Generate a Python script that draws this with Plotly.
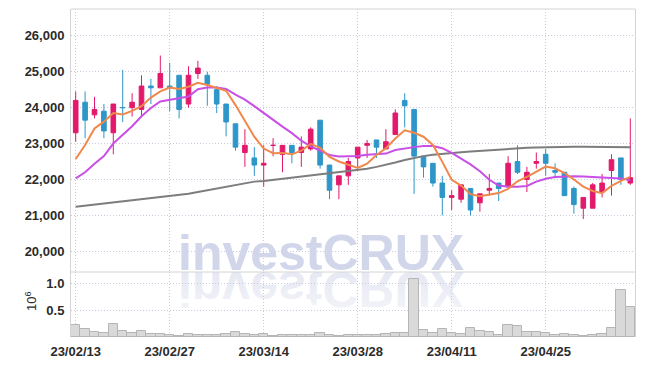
import base64
import plotly.graph_objects as go

dates = [
    "23/02/13", "23/02/14", "23/02/15", "23/02/16", "23/02/17",
    "23/02/20", "23/02/21", "23/02/22", "23/02/23", "23/02/24",
    "23/02/27", "23/02/28", "23/03/02", "23/03/03",
    "23/03/06", "23/03/07", "23/03/08", "23/03/09", "23/03/10",
    "23/03/13", "23/03/14", "23/03/15", "23/03/16", "23/03/17",
    "23/03/20", "23/03/21", "23/03/22", "23/03/23", "23/03/24",
    "23/03/27", "23/03/28", "23/03/29", "23/03/30", "23/03/31",
    "23/04/03", "23/04/04", "23/04/05", "23/04/06", "23/04/07",
    "23/04/10", "23/04/11", "23/04/12", "23/04/13", "23/04/14",
    "23/04/17", "23/04/18", "23/04/19", "23/04/20", "23/04/21",
    "23/04/24", "23/04/25", "23/04/26", "23/04/27", "23/04/28",
    "23/05/02", "23/05/03", "23/05/04", "23/05/08", "23/05/09", "23/05/10",
]

open_p = [23300, 24150, 23800, 23900, 23300, 24000, 24000, 23950, 24600, 24550,
          24600, 24900, 24100, 24950, 24900, 24500, 24100, 23550, 22750, 22600,
          22400, 22950, 22700, 22950, 22750, 22850, 23650, 22400, 21850, 22100,
          22600, 22950, 23100, 22850, 23250, 24200, 23950, 22650, 22450, 21900,
          21500, 21450, 21750, 21350, 21700, 21900, 21800, 22500, 22000, 22450,
          22700, 22250, 22200, 21750, 21200, 21200, 21650, 22250, 22600, 21900]
high_p = [24450, 24450, 24300, 24100, 24100, 25050, 24400, 24900, 24800, 25450,
          25250, 24900, 25150, 25300, 25000, 24600, 24100, 23550, 23400, 22900,
          22950, 23150, 22950, 22950, 23200, 23450, 23650, 22400, 22100, 22600,
          22900, 23100, 23100, 23400, 23950, 24400, 23950, 22650, 22450, 22100,
          21700, 21850, 21750, 21600, 22150, 21900, 22650, 22950, 22350, 22750,
          22850, 22450, 22200, 21800, 21500, 21900, 22150, 22700, 22600, 23700]
low_p = [23050, 23150, 23700, 23150, 22700, 23600, 23750, 23750, 24100, 24550,
         23900, 23700, 24000, 24800, 24050, 23850, 23200, 22800, 22350, 22100,
         21800, 22650, 22200, 22450, 22350, 22800, 22300, 21450, 21450, 21850,
         22350, 22600, 22600, 22850, 23250, 23450, 21600, 22050, 21800, 21000,
         21150, 21350, 21000, 21100, 21550, 21400, 21800, 22150, 21650, 22300,
         22100, 22050, 21550, 21050, 20900, 21200, 21500, 21550, 21850, 21850]
close_p = [24200, 23650, 23950, 23350, 24100, 24000, 24150, 24600, 24550, 24950,
           24550, 23950, 24900, 25100, 24650, 24100, 23600, 22900, 22950, 22400,
           22450, 22950, 22950, 22750, 22900, 23400, 22400, 21700, 22100, 22500,
           22900, 23000, 22900, 23050, 23850, 24050, 22650, 22350, 21900, 21500,
           21550, 21850, 21150, 21600, 21750, 21750, 22450, 22200, 22200, 22500,
           22450, 22200, 21550, 21300, 21500, 21850, 21900, 22550, 22000, 22050]

volume = [216000, 140000, 100000, 80000, 235000, 105000, 82000, 120000, 63000, 63000,
          43000, 26000, 65000, 30000, 30000, 30000, 48000, 85000, 50000, 30000,
          65000, 18000, 35000, 43000, 32000, 36000, 66000, 43000, 26000, 30000,
          28000, 28000, 32000, 50000, 68000, 68000, 1080000, 136000, 72000, 155000,
          80000, 62000, 170000, 112000, 88000, 30000, 220000, 205000, 102000, 84000,
          80000, 38000, 52000, 35000, 15000, 35000, 52000, 170000, 870000, 556000]

ma5 = [22570, 22960, 23420, 23610, 23850, 23810, 23910, 24040, 24280, 24450,
       24560, 24520, 24580, 24690, 24630, 24540, 24470, 24070, 23640, 23190,
       22860, 22730, 22740, 22700, 22800, 22990, 22880, 22630, 22500, 22420,
       22320, 22440, 22680, 22870, 23140, 23370, 23300, 23190, 22960, 22490,
       21990, 21830, 21590, 21530, 21580, 21620, 21740, 21950, 22070, 22220,
       22360, 22310, 22180, 22000, 21800, 21680, 21620, 21820, 21960, 22070]
ma20 = [22030, 22200, 22440, 22650, 23000, 23250, 23480, 23760, 23990, 24170,
        24220, 24250, 24310, 24510, 24560, 24560, 24520, 24360, 24220, 24040,
        23850, 23640, 23470, 23290, 23080, 22920, 22790, 22680, 22640, 22640,
        22650, 22690, 22700, 22720, 22820, 22870, 22900, 22930, 22930, 22870,
        22740, 22580, 22420, 22230, 21990, 21830, 21800, 21800, 21820, 21940,
        22020, 22070, 22090, 22090, 22080, 22070, 22060, 22050, 22030, 21980]
ma_long = [21240, 21270, 21300, 21330, 21360, 21385, 21410, 21440, 21470, 21500,
           21530, 21560, 21600, 21650, 21700, 21750, 21800, 21850, 21890, 21940,
           21960, 21990, 22010, 22040, 22070, 22100, 22130, 22160, 22190, 22220,
           22260, 22300, 22350, 22400, 22470, 22540, 22600, 22650, 22690, 22720,
           22740, 22760, 22780, 22800, 22820, 22840, 22860, 22870, 22880, 22890,
           22900, 22900, 22910, 22910, 22910, 22910, 22910, 22910, 22910, 22900]

x_tick_labels = ["23/02/13", "23/02/27", "23/03/14", "23/03/28", "23/04/11", "23/04/25"]
price_ticks = [20000, 21000, 22000, 23000, 24000, 25000, 26000]
vol_ticks = [500000, 1000000]
vol_tick_text = ["0.5", "1.0"]

UP = "#e3196b"
DOWN = "#2e96c8"
GRID = "#c9cadf"
FRAME = "#d4d4d4"
TICKFONT = dict(family="Liberation Sans", size=13, color="#2b2b2b", weight="bold")

# page body has an 8px offset; figure is sized so the plot area lands at x 71..635, y 9..337
SPLIT = 65 / 328.0

fig = go.Figure()

fig.add_trace(go.Bar(
    x=dates, y=volume, xaxis="x", yaxis="y2",
    marker=dict(color="#d9d9d9", line=dict(color="#b5b5b5", width=1)),
    showlegend=False, hoverinfo="skip",
))
fig.add_trace(go.Candlestick(
    x=dates, open=open_p, high=high_p, low=low_p, close=close_p,
    xaxis="x", yaxis="y",
    increasing=dict(line=dict(color=UP, width=1), fillcolor=UP),
    decreasing=dict(line=dict(color=DOWN, width=1), fillcolor=DOWN),
    whiskerwidth=0, showlegend=False, hoverinfo="skip",
))
fig.add_trace(go.Scatter(x=dates, y=ma_long, mode="lines", xaxis="x", yaxis="y",
                         line=dict(color="#7d7d7d", width=2), showlegend=False, hoverinfo="skip"))
fig.add_trace(go.Scatter(x=dates, y=ma20, mode="lines", xaxis="x", yaxis="y",
                         line=dict(color="#c94fe6", width=2), showlegend=False, hoverinfo="skip"))
fig.add_trace(go.Scatter(x=dates, y=ma5, mode="lines", xaxis="x", yaxis="y",
                         line=dict(color="#f0884c", width=2), showlegend=False, hoverinfo="skip"))

svg = (
    '<svg xmlns="http://www.w3.org/2000/svg" width="300" height="50" viewBox="0 0 300 50">'
    '<defs><linearGradient id="g" x1="0" y1="0" x2="0" y2="1">'
    '<stop offset="0" stop-color="#f5f6fa"/><stop offset="1" stop-color="#e2e4f1"/>'
    '</linearGradient></defs>'
    '<text x="150" y="0" transform="scale(1,-1)" text-anchor="middle" '
    'font-family="Liberation Sans" font-weight="bold" font-size="50" fill="url(#g)">investCRUX</text>'
    '</svg>'
)
svg_uri = "data:image/svg+xml;base64," + base64.b64encode(svg.encode()).decode()

fig.update_layout(
    width=637, height=358,
    margin=dict(l=63, r=10, t=1, b=29, autoexpand=False),
    paper_bgcolor="white", plot_bgcolor="white",
    hovermode=False, showlegend=False,
    bargap=0, boxgap=0.3,
    xaxis=dict(
        type="category", domain=[0, 1], anchor="y2", automargin=False,
        range=[-0.5, len(dates) - 0.5],
        tickvals=x_tick_labels, ticktext=x_tick_labels,
        showgrid=True, gridcolor=GRID, griddash="1px,2px", gridwidth=1,
        rangeslider=dict(visible=False),
        ticks="outside", ticklen=2, tickcolor="rgba(0,0,0,0)",
        tickfont=TICKFONT, showline=False, zeroline=False,
    ),
    yaxis=dict(
        domain=[SPLIT, 1], anchor="x", automargin=False,
        range=[19424, 26745],
        tickvals=price_ticks, tickformat=",d",
        showgrid=True, gridcolor=GRID, griddash="1px,2px", gridwidth=1,
        showline=True, mirror=True, linecolor=FRAME, linewidth=1,
        ticks="outside", ticklen=3, tickcolor="rgba(0,0,0,0)",
        tickfont=TICKFONT, zeroline=False,
    ),
    yaxis2=dict(
        domain=[0, SPLIT], anchor="x", automargin=False,
        range=[0, 1206000],
        tickvals=vol_ticks, ticktext=vol_tick_text,
        showgrid=True, gridcolor=GRID, griddash="1px,2px", gridwidth=1,
        showline=True, mirror=True, linecolor=FRAME, linewidth=1,
        ticks="outside", ticklen=3, tickcolor="rgba(0,0,0,0)",
        tickfont=TICKFONT, zeroline=False,
    ),
    shapes=[
        dict(type="line", xref="paper", yref="paper", x0=0, x1=1, y0=1, y1=1,
             line=dict(color=FRAME, width=1)),
        dict(type="line", xref="paper", yref="paper", x0=0, x1=1, y0=SPLIT, y1=SPLIT,
             line=dict(color=FRAME, width=1)),
    ],
    annotations=[
        dict(text="investCRUX", xref="paper", yref="paper",
             x=(321 - 71) / 564.0, y=(337 - 283.0) / 328.0,
             xanchor="center", yanchor="bottom", showarrow=False,
             font=dict(family="Liberation Sans", size=50, color="#d1d6ea", weight="bold")),
        dict(text="10<sup>6</sup>", xref="paper", yref="paper",
             x=(31 - 71) / 564.0, y=(337 - 301) / 328.0,
             xanchor="center", yanchor="middle", showarrow=False, textangle=-90,
             font=dict(family="Liberation Sans", size=13, color="#2b2b2b")),
    ],
    images=[
        dict(source=svg_uri, xref="paper", yref="paper",
             x=(171 - 71) / 564.0, y=SPLIT, sizex=300 / 564.0, sizey=50 / 328.0,
             xanchor="left", yanchor="top", sizing="stretch", layer="below"),
    ],
)

fig.write_html("out.html")
